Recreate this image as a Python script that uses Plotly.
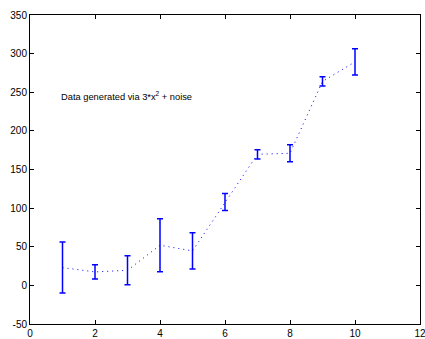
import plotly.graph_objects as go

x_vals = [1, 2, 3, 4, 5, 6, 7, 8, 9, 10]
y_vals = [23, 17.4, 19.5, 52, 44.6, 108, 169.7, 171, 264, 289.3]
err_vals = [33, 9.3, 18.8, 34.3, 23.5, 11, 6, 11, 6, 17]

x_ticks = [0, 2, 4, 6, 8, 10, 12]
y_ticks = [-50, 0, 50, 100, 150, 200, 250, 300, 350]

fig = go.Figure()
fig.add_trace(go.Scatter(
    x=x_vals, y=y_vals, mode="lines",
    line=dict(color="rgb(0,0,255)", width=1, dash="1px,4px"),
    error_y=dict(type="data", array=err_vals, visible=True,
                 color="rgb(0,0,255)", thickness=1.5, width=3),
    showlegend=False,
))

fig.add_annotation(x=0.9, y=245, xref="x", yref="y", text="Data generated via 3*x<sup>2</sup> + noise",
                   showarrow=False, xanchor="left", yanchor="middle",
                   font=dict(family="Liberation Sans, Arial, sans-serif", size=9.3, color="black"))

axis_common = dict(showgrid=False, zeroline=False, showline=True, linecolor="black", linewidth=1,
                   mirror="allticks", ticks="inside", ticklen=4, tickcolor="black", tickwidth=1,
                   automargin=False, ticklabeloverflow="allow",
                   tickfont=dict(family="Liberation Sans, Arial, sans-serif", size=10, color="black"))

fig.update_xaxes(range=[0, 12], tickvals=x_ticks, ticktext=[str(t) for t in x_ticks], **axis_common)
fig.update_yaxes(range=[-50, 350], tickvals=y_ticks, ticktext=[str(t) for t in y_ticks], **axis_common)

fig.update_layout(width=425, height=339, margin=dict(l=30, r=5, t=15, b=15),
                  plot_bgcolor="white", paper_bgcolor="white")

fig.write_html("out.html", config={"displayModeBar": False},
               post_script="document.body.style.margin='0';document.body.style.overflow='hidden';")
